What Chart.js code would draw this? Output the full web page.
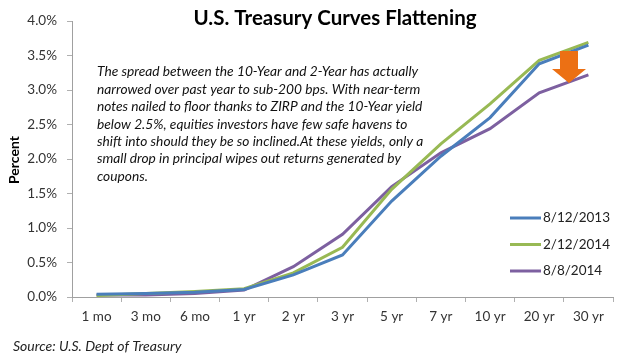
<!DOCTYPE html>
<html>
<head>
<meta charset="utf-8">
<script src="https://cdn.jsdelivr.net/npm/chart.js@4"></script>
<style>
html,body{margin:0;padding:0;background:#fff;}
#wrap{width:640px;height:361px;position:relative;}
</style>
</head>
<body>
<div id="wrap"><canvas id="canvas" width="640" height="361"></canvas></div>
<script>
// maturities on the x axis
const maturities = ['1 mo','3 mo','6 mo','1 yr','2 yr','3 yr','5 yr','7 yr','10 yr','20 yr','30 yr'];
// yields in percent
const aug2013 = [0.04,0.05,0.07,0.11,0.32,0.61,1.39,2.04,2.60,3.38,3.65];
const feb2014 = [0.02,0.05,0.08,0.12,0.35,0.72,1.56,2.22,2.80,3.43,3.69];
const aug2014 = [0.03,0.03,0.05,0.10,0.44,0.91,1.60,2.09,2.44,2.96,3.22];
const seriesNames = ['8/12/2013','2/12/2014','8/8/2014'];
const seriesColors = ['#4a7ebb','#98b954','#7d60a0'];
const yTicks = [0,0.5,1,1.5,2,2.5,3,3.5,4];

const titleText = 'U.S. Treasury Curves Flattening';
const note = [
  'The spread between the 10-Year and 2-Year has actually',
  'narrowed over past year to sub-200 bps. With near-term',
  'notes nailed to floor thanks to ZIRP and the 10-Year yield',
  'below 2.5%, equities investors have few safe havens to',
  'shift into should they be so inclined.At these yields, only a',
  'small drop in principal wipes out returns generated by',
  'coupons.'
];
const sourceText = 'Source: U.S. Dept of Treasury';
const FONT = 'Lato, "Liberation Sans", sans-serif';

function fitFont(ctx, style, text, width, max) {
  let size = max;
  while (size > 6) {
    ctx.font = style + ' ' + size + 'px ' + FONT;
    if (ctx.measureText(text).width <= width) break;
    size -= 0.25;
  }
  return ctx.font;
}

const extras = {
  id: 'extras',
  afterDraw(chart) {
    const ctx = chart.ctx;
    ctx.save();
    // title
    ctx.fillStyle = '#000';
    ctx.textBaseline = 'middle';
    ctx.textAlign = 'center';
    ctx.font = fitFont(ctx, 'bold', titleText, 284, 22);
    ctx.fillText(titleText, 335, 18);
    // axis title
    ctx.save();
    ctx.translate(14, 160);
    ctx.rotate(-Math.PI / 2);
    ctx.font = 'bold 14px ' + FONT;
    ctx.fillText('Percent', 0, 0);
    ctx.restore();
    // note text
    ctx.textAlign = 'left';
    ctx.fillStyle = '#111';
    ctx.font = fitFont(ctx, 'italic', note[4], 330, 16);
    const y0 = 72, lh = 17.4;
    note.forEach((t, i) => ctx.fillText(t, 97, y0 + i * lh));
    // source
    ctx.fillStyle = '#222';
    ctx.font = fitFont(ctx, 'italic', sourceText, 170, 15);
    ctx.fillText(sourceText, 13, 346);
    // legend
    ctx.font = '13.5px ' + FONT;
    ctx.fillStyle = '#222';
    chart.data.datasets.forEach((ds, i) => {
      const y = 218 + i * 26.5;
      ctx.strokeStyle = ds.borderColor;
      ctx.lineWidth = 3;
      ctx.beginPath();
      ctx.moveTo(510, y);
      ctx.lineTo(541, y);
      ctx.stroke();
      ctx.fillText(ds.label, 543, y);
    });
    // orange arrow
    ctx.fillStyle = '#ec7014';
    ctx.beginPath();
    ctx.moveTo(560, 51);
    ctx.lineTo(578, 51);
    ctx.lineTo(578, 69);
    ctx.lineTo(586, 69);
    ctx.lineTo(569, 83);
    ctx.lineTo(552, 69);
    ctx.lineTo(560, 69);
    ctx.closePath();
    ctx.fill();
    ctx.restore();
  }
};

const ctx = document.getElementById('canvas').getContext('2d');
const chart = new Chart(ctx, {
  type: 'line',
  data: {
    labels: maturities,
    datasets: [aug2013, feb2014, aug2014].map((d, i) => ({
      label: seriesNames[i],
      data: d,
      borderColor: seriesColors[i],
      backgroundColor: seriesColors[i],
      borderWidth: 3,
      pointRadius: 0,
      tension: 0,
      fill: false
    }))
  },
  options: {
    responsive: false,
    animation: false,
    layout: {padding: {top: 21, right: 27, left: 0, bottom: 0}},
    plugins: {legend: {display: false}, title: {display: false}, tooltip: {enabled: false}},
    scales: {
      x: {
        offset: true,
        grid: {offset: true, drawOnChartArea: false, tickLength: 5, color: '#b0b0b0'},
        border: {color: '#a0a0a0'},
        ticks: {color: '#333', font: {family: FONT, size: 13.5}, padding: 7, maxRotation: 0, autoSkip: false},
        afterFit(scale) { scale.height = 64; }
      },
      y: {
        min: 0, max: 4,
        afterBuildTicks(scale) { scale.ticks = yTicks.map(v => ({value: v})); },
        grid: {drawOnChartArea: false, tickLength: 5, color: '#b0b0b0'},
        border: {color: '#a0a0a0'},
        ticks: {color: '#333', font: {family: FONT, size: 13.5}, padding: 10,
          callback: v => v.toFixed(1) + '%'},
        afterFit(scale) { scale.width = 72; }
      }
    }
  },
  plugins: [extras]
});
</script>
</body>
</html>
